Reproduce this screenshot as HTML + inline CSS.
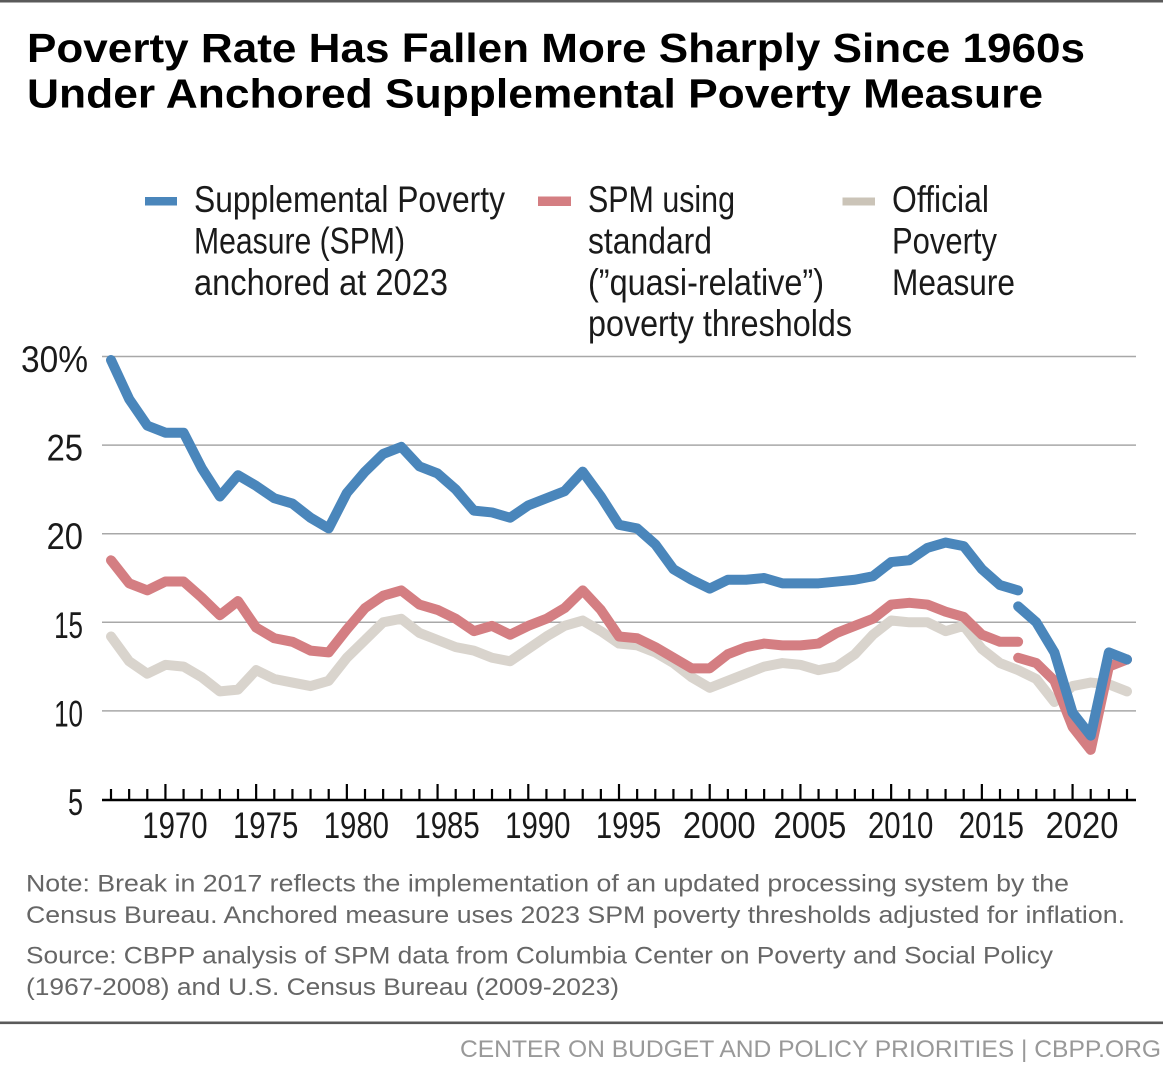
<!DOCTYPE html>
<html lang="en">
<head>
<meta charset="utf-8">
<title>Poverty Rate Has Fallen More Sharply Since 1960s</title>
<style>
  html, body { margin: 0; padding: 0; background: #fff; }
  body { width: 1163px; height: 1068px; overflow: hidden; }
  svg { display: block; }
  text { font-family: "Liberation Sans", sans-serif; }
  .title { font-size: 41px; font-weight: 700; fill: #000; }
  .legend { font-size: 37px; fill: #1a1a1a; }
  .axis { font-size: 37px; fill: #1a1a1a; }
  .note { font-size: 23.8px; fill: #666; }
  .footer { font-size: 24px; fill: #999; }
</style>
</head>
<body>
<svg id="chart" xmlns="http://www.w3.org/2000/svg" width="1163" height="1068" viewBox="0 0 1163 1068">
  <rect x="0" y="0" width="1163" height="2.5" fill="#5a5a5a"/>
  <g>
    <text class="title" x="27" y="62" textLength="1058" lengthAdjust="spacingAndGlyphs">Poverty Rate Has Fallen More Sharply Since 1960s</text>
    <text class="title" x="27" y="107.5" textLength="1016" lengthAdjust="spacingAndGlyphs">Under Anchored Supplemental Poverty Measure</text>
  </g>

  <g>
    <rect x="145" y="197" width="32" height="8.5" fill="#4a86bb"/>
    <text class="legend" x="194" y="212" textLength="311" lengthAdjust="spacingAndGlyphs">Supplemental Poverty</text>
    <text class="legend" x="194" y="253.5" textLength="211" lengthAdjust="spacingAndGlyphs">Measure (SPM)</text>
    <text class="legend" x="194" y="295" textLength="254" lengthAdjust="spacingAndGlyphs">anchored at 2023</text>
  </g>
  <g>
    <rect x="538" y="196.5" width="33" height="9.5" fill="#d47e82"/>
    <text class="legend" x="588" y="212" textLength="147" lengthAdjust="spacingAndGlyphs">SPM using</text>
    <text class="legend" x="588" y="253.5" textLength="124" lengthAdjust="spacingAndGlyphs">standard</text>
    <text class="legend" x="588" y="295" textLength="236" lengthAdjust="spacingAndGlyphs">(”quasi-relative”)</text>
    <text class="legend" x="588" y="336" textLength="264" lengthAdjust="spacingAndGlyphs">poverty thresholds</text>
  </g>
  <g>
    <rect x="842.5" y="197.5" width="32.5" height="8" fill="#cbc4b8"/>
    <text class="legend" x="892" y="212" textLength="97" lengthAdjust="spacingAndGlyphs">Official</text>
    <text class="legend" x="892" y="253.5" textLength="105" lengthAdjust="spacingAndGlyphs">Poverty</text>
    <text class="legend" x="892" y="295" textLength="123" lengthAdjust="spacingAndGlyphs">Measure</text>
  </g>

  <g id="plot"></g>

  <g>
    <text class="note" x="26" y="891.7" textLength="1043" lengthAdjust="spacingAndGlyphs">Note: Break in 2017 reflects the implementation of an updated processing system by the</text>
    <text class="note" x="26" y="923" textLength="1099" lengthAdjust="spacingAndGlyphs">Census Bureau. Anchored measure uses 2023 SPM poverty thresholds adjusted for inflation.</text>
  </g>
  <g>
    <text class="note" x="26" y="963.5" textLength="1027" lengthAdjust="spacingAndGlyphs">Source: CBPP analysis of SPM data from Columbia Center on Poverty and Social Policy</text>
    <text class="note" x="26" y="995" textLength="593" lengthAdjust="spacingAndGlyphs">(1967-2008) and U.S. Census Bureau (2009-2023)</text>
  </g>
  <rect x="0" y="1021.5" width="1163" height="2.6" fill="#5a5a5a"/>
  <text class="footer" x="460" y="1057" textLength="701" lengthAdjust="spacingAndGlyphs">CENTER ON BUDGET AND POLICY PRIORITIES | CBPP.ORG</text>
</svg>
<script>
const firstYear = 1967;
const lastYear = 2023;
const breakYear = 2017;
const yTickValues = [30, 25, 20, 15, 10, 5];
const yTickLabels = ["30%", "25", "20", "15", "10", "5"];
const xLabelYears = [1970, 1975, 1980, 1985, 1990, 1995, 2000, 2005, 2010, 2015, 2020];
const anchoredBeforeBreak = [29.8, 27.6, 26.1, 25.7, 25.7, 23.7, 22.1, 23.3, 22.7, 22.0, 21.7, 20.9, 20.3, 22.3, 23.5, 24.5, 24.9, 23.8, 23.4, 22.5, 21.3, 21.2, 20.9, 21.6, 22.0, 22.4, 23.5, 22.1, 20.5, 20.3, 19.4, 18.0, 17.4, 16.9, 17.4, 17.4, 17.5, 17.2, 17.2, 17.2, 17.3, 17.4, 17.6, 18.4, 18.5, 19.2, 19.5, 19.3, 18.0, 17.1, 16.8];
const anchoredAfterBreak = [15.9, 15.0, 13.3, 9.9, 8.6, 13.3, 12.9];
const standardBeforeBreak = [18.5, 17.2, 16.8, 17.3, 17.3, 16.4, 15.4, 16.2, 14.7, 14.1, 13.9, 13.4, 13.3, 14.6, 15.8, 16.5, 16.8, 16.0, 15.7, 15.2, 14.5, 14.8, 14.3, 14.8, 15.2, 15.8, 16.8, 15.7, 14.2, 14.1, 13.6, 13.0, 12.4, 12.4, 13.2, 13.6, 13.8, 13.7, 13.7, 13.8, 14.4, 14.8, 15.2, 16.0, 16.1, 16.0, 15.6, 15.3, 14.3, 13.9, 13.9];
const standardAfterBreak = [13.0, 12.7, 11.7, 9.1, 7.8, 12.5, 12.9];
const officialValues = [14.2, 12.8, 12.1, 12.6, 12.5, 11.9, 11.1, 11.2, 12.3, 11.8, 11.6, 11.4, 11.7, 13.0, 14.0, 15.0, 15.2, 14.4, 14.0, 13.6, 13.4, 13.0, 12.8, 13.5, 14.2, 14.8, 15.1, 14.5, 13.8, 13.7, 13.3, 12.7, 11.9, 11.3, 11.7, 12.1, 12.5, 12.7, 12.6, 12.3, 12.5, 13.2, 14.3, 15.1, 15.0, 15.0, 14.5, 14.8, 13.5, 12.7, 12.3, 11.8, 10.5, 11.4, 11.6, 11.5, 11.1];

const SVG_NS = "http://www.w3.org/2000/svg";
const plot = document.getElementById("plot");

function xScale(year) {
  return 111 + (year - firstYear) * (1127 - 111) / (lastYear - firstYear);
}
function yScale(value) {
  return 799.5 - (value - 5) * (799.5 - 356.5) / 25;
}
function make(tag, attrs, parent) {
  const el = document.createElementNS(SVG_NS, tag);
  for (const key in attrs) el.setAttribute(key, attrs[key]);
  (parent || plot).appendChild(el);
  return el;
}
function linePoints(values, startYear) {
  return values.map(function (v, i) {
    return xScale(startYear + i).toFixed(2) + "," + yScale(v).toFixed(2);
  }).join(" ");
}
// The reference face has a narrow "1"; fit digit strings to the same widths.
function digitWidth(text) {
  const ones = text.split("1").length - 1;
  return text.length * 18.2 - ones * 7.5;
}

const axisLeft = xScale(firstYear) - 9;
const axisRight = xScale(lastYear) + 9;

yTickValues.forEach(function (value, i) {
  if (value !== 5) {
    const grid = make("line", { x1: axisLeft, x2: axisRight, y1: yScale(value), y2: yScale(value), stroke: "#a8a8a8", "stroke-width": 1.5 });
    
    
  }
  const text = yTickLabels[i];
  const isPercent = text.indexOf("%") >= 0;
  const width = isPercent ? 67 : (text.length === 1 ? 15 : digitWidth(text));
  const label = make("text", { class: "axis", x: isPercent ? 21 : 83 - width, y: yScale(value) + 15.5, textLength: width, lengthAdjust: "spacingAndGlyphs" });
  label.textContent = text;
  
  
});

function drawSeries(values, startYear, color, name) {
  const line = make("polyline", { points: linePoints(values, startYear), fill: "none", stroke: color, "stroke-width": 10, "stroke-linecap": "round", "stroke-linejoin": "round" });
  
  
}
drawSeries(officialValues, firstYear, "#d9d4cd", "line-official-poverty-measure");
drawSeries(standardBeforeBreak, firstYear, "#d47e82", "line-standard-spm-before-break");
drawSeries(standardAfterBreak, breakYear, "#d47e82", "line-standard-spm-after-break");
drawSeries(anchoredBeforeBreak, firstYear, "#4a86bb", "line-anchored-spm-before-break");
drawSeries(anchoredAfterBreak, breakYear, "#4a86bb", "line-anchored-spm-after-break");

const axisLine = make("line", { x1: axisLeft, x2: axisRight, y1: 800, y2: 800, stroke: "#000", "stroke-width": 2.4 });



for (let year = firstYear; year <= lastYear; year++) {
  const top = year % 5 === 0 ? 784 : 789;
  const tick = make("line", { x1: xScale(year), x2: xScale(year), y1: top, y2: 800, stroke: "#000", "stroke-width": 2.2 });
  
  
}

xLabelYears.forEach(function (year) {
  const text = String(year);
  const width = digitWidth(text);
  const label = make("text", { class: "axis", x: xScale(year) + 9.5 - width / 2, y: 838, textLength: width, lengthAdjust: "spacingAndGlyphs" });
  label.textContent = text;
  
  
});
</script>
</body>
</html>
